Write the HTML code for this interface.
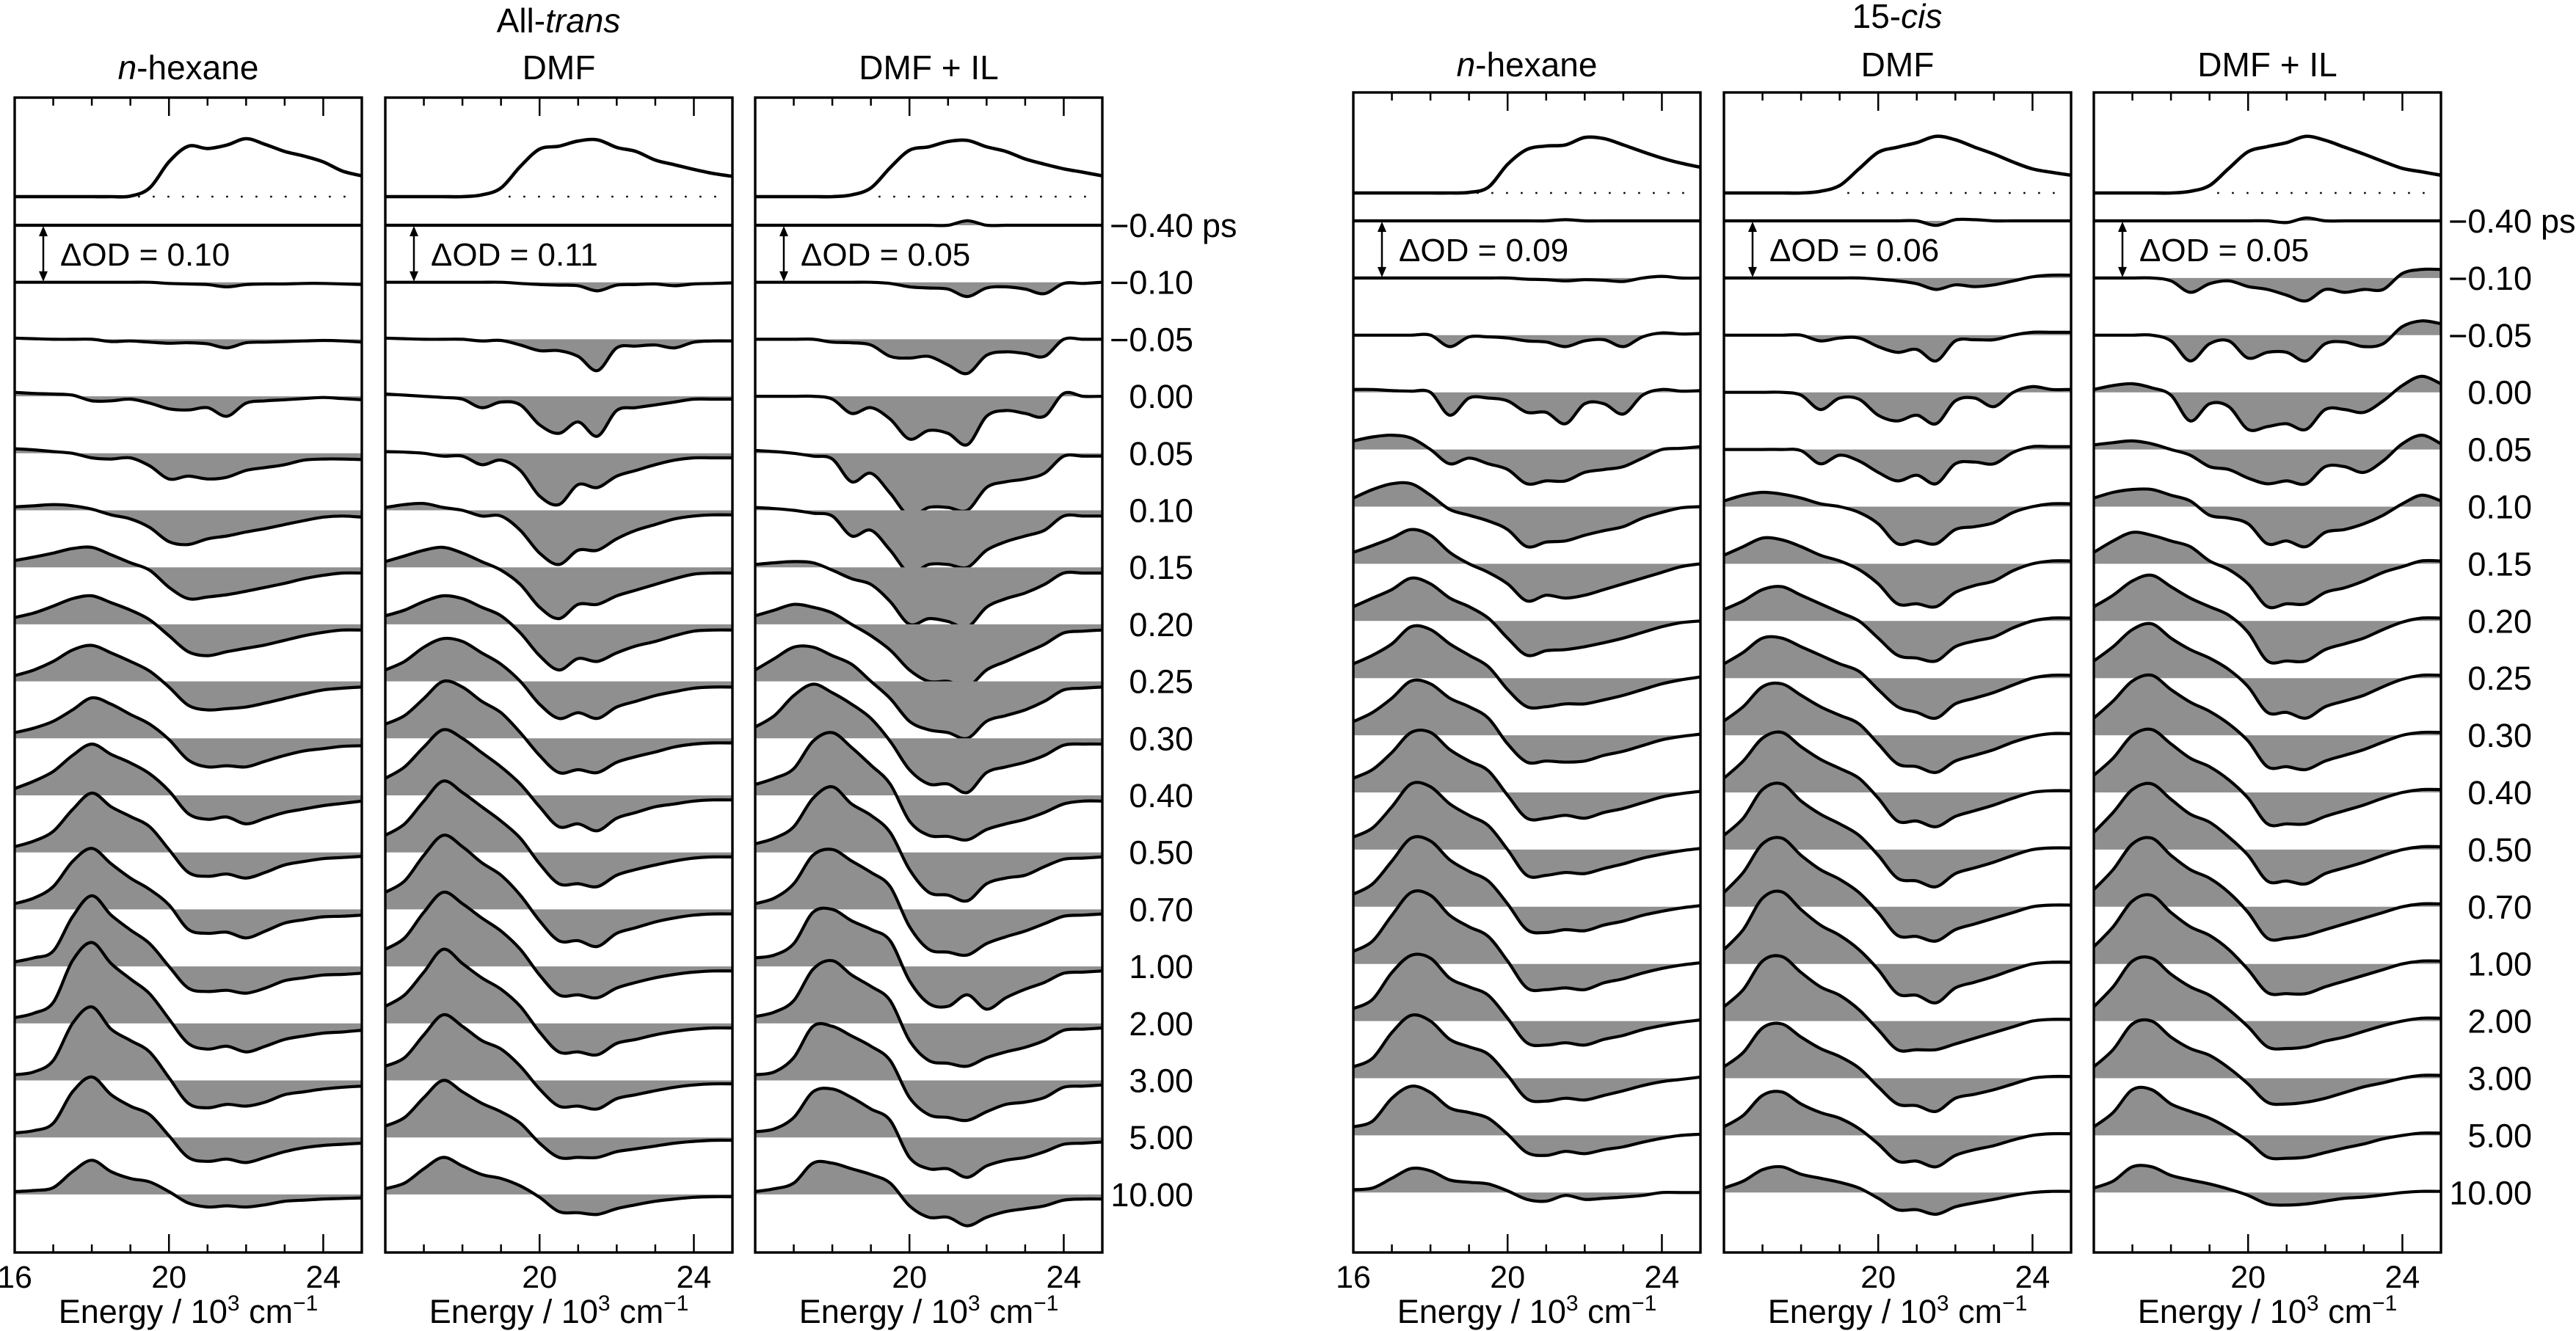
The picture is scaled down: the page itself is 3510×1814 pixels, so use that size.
<!DOCTYPE html>
<html><head><meta charset="utf-8">
<style>
html,body{margin:0;padding:0;background:#fff;}
svg{display:block;font-family:"Liberation Sans",Arial,sans-serif;}
</style></head>
<body>
<svg id="fig" width="3510" height="1814" viewBox="0 0 3510 1814" xmlns="http://www.w3.org/2000/svg">
<text x="761" y="44" font-size="46" text-anchor="middle">All-<tspan font-style="italic">trans</tspan></text>
<text x="2585" y="38" font-size="46" text-anchor="middle">15-<tspan font-style="italic">cis</tspan></text>
</svg>
<script>
const energies=[16,16.5,17,17.5,18,18.5,19,19.5,20,20.5,21,21.5,22,22.5,23,23.5,24,24.5,25];
const delays=["\u22120.40","\u22120.10","\u22120.05","0.00","0.05","0.10","0.15","0.20","0.25","0.30","0.40","0.50","0.70","1.00","2.00","3.00","5.00","10.00"];
const solvents=["n-hexane","DMF","DMF + IL","n-hexane","DMF","DMF + IL"];
const odScale=["0.10","0.11","0.05","0.09","0.06","0.05"];
const xTicks=[16,20,24];

const absAtHex=[0,0,0,0,0,0,.01,.15,.6,.87,.83,.89,1,.9,.78,.7,.6,.44,.36];
const absAtDmf=[0,0,0,0,0,.03,.15,.52,.82,.87,.96,.98,.85,.78,.63,.55,.47,.4,.35];
const absAtIl=[0,0,0,0,0,.03,.15,.5,.8,.86,.95,.97,.86,.78,.65,.56,.48,.42,.36];
const absCisHex=[0,0,0,0,0,0,.01,.1,.5,.76,.82,.84,.97,.95,.84,.72,.61,.52,.45];
const absCisDmf=[0,0,0,0,0,.03,.13,.42,.71,.8,.88,.99,.93,.8,.68,.54,.42,.36,.31];
const absCisIl=[0,0,0,0,0,.03,.13,.43,.72,.81,.88,.99,.92,.8,.68,.55,.43,.37,.31];

const atHex=[
[0,0,0,0,0,0,0,0,0,0,0,0,0,0,0,0,0,0,0],
[0,0,0,0,0,0,0,0,-.02,-.03,-.04,-.08,-.04,-.03,-.03,-.02,-.02,-.03,-.04],
[.02,.01,0,0,0,-.04,-.03,-.05,-.07,-.06,-.08,-.15,-.06,-.05,-.04,-.03,-.02,-.03,-.05],
[.07,.05,.04,.02,-.08,-.08,-.05,-.12,-.22,-.24,-.2,-.35,-.12,-.08,-.06,-.04,-.02,-.04,-.06],
[.08,.06,.03,0,-.08,-.1,-.08,-.22,-.45,-.4,-.45,-.42,-.3,-.25,-.2,-.12,-.1,-.1,-.11],
[.06,.08,.1,.08,.02,-.08,-.15,-.3,-.55,-.6,-.5,-.45,-.38,-.32,-.25,-.18,-.12,-.1,-.12],
[.12,.18,.25,.33,.35,.22,.08,-.05,-.35,-.55,-.52,-.48,-.42,-.35,-.28,-.2,-.14,-.1,-.1],
[.12,.2,.32,.45,.5,.38,.25,.08,-.2,-.48,-.55,-.48,-.42,-.36,-.28,-.2,-.14,-.1,-.1],
[.1,.2,.35,.55,.63,.5,.35,.18,-.1,-.42,-.5,-.48,-.45,-.38,-.3,-.22,-.15,-.12,-.1],
[.1,.18,.3,.5,.71,.6,.42,.25,-.02,-.38,-.5,-.48,-.5,-.4,-.3,-.22,-.18,-.14,-.13],
[.12,.25,.42,.7,.9,.72,.57,.38,.08,-.32,-.42,-.38,-.5,-.4,-.3,-.24,-.18,-.14,-.1],
[.1,.2,.37,.75,1.04,.8,.63,.45,.05,-.35,-.42,-.38,-.45,-.35,-.22,-.16,-.11,-.09,-.07],
[.1,.2,.4,.84,1.07,.8,.55,.35,.08,-.35,-.42,-.4,-.5,-.38,-.24,-.18,-.13,-.12,-.1],
[.08,.15,.27,.87,1.24,.9,.64,.4,0,-.38,-.44,-.42,-.47,-.38,-.25,-.2,-.15,-.14,-.12],
[.1,.18,.37,1.1,1.42,1.05,.78,.52,.08,-.35,-.45,-.4,-.5,-.4,-.28,-.22,-.17,-.15,-.12],
[.1,.15,.35,1.0,1.29,.9,.7,.5,.05,-.4,-.48,-.42,-.45,-.38,-.25,-.2,-.15,-.12,-.1],
[.08,.12,.25,.8,1.06,.75,.55,.4,.03,-.35,-.42,-.38,-.44,-.35,-.25,-.18,-.14,-.12,-.1],
[.05,.07,.12,.4,.6,.4,.28,.22,.05,-.15,-.22,-.2,-.22,-.18,-.12,-.1,-.08,-.07,-.06]];

const atDmf=[
[0,0,0,0,0,0,0,0,0,0,0,0,0,0,0,0,0,0,0],
[0,0,0,0,0,0,0,-.02,-.04,-.05,-.06,-.15,-.05,-.04,-.03,-.06,-.03,-.02,-.01],
[.02,.01,0,0,0,-.03,-.02,-.1,-.2,-.2,-.3,-.55,-.15,-.12,-.1,-.15,-.05,-.03,-.03],
[.04,.02,0,-.02,-.05,-.2,-.1,-.15,-.5,-.65,-.45,-.7,-.25,-.2,-.15,-.1,-.05,-.05,-.05],
[.03,.02,0,-.05,-.05,-.2,-.12,-.3,-.75,-.9,-.55,-.6,-.4,-.3,-.2,-.12,-.08,-.08,-.08],
[.05,.1,.12,.05,0,-.1,-.1,-.35,-.75,-.95,-.7,-.7,-.5,-.35,-.25,-.15,-.1,-.08,-.08],
[.1,.2,.3,.35,.25,.1,-.05,-.3,-.7,-.9,-.65,-.65,-.5,-.4,-.3,-.2,-.12,-.1,-.1],
[.15,.25,.4,.5,.45,.3,.15,-.15,-.55,-.8,-.6,-.65,-.5,-.38,-.3,-.2,-.12,-.1,-.1],
[.2,.35,.6,.75,.7,.5,.3,0,-.4,-.65,-.55,-.65,-.45,-.35,-.25,-.18,-.12,-.1,-.1],
[.25,.4,.7,1.0,.9,.65,.45,.1,-.3,-.6,-.55,-.6,-.42,-.32,-.24,-.15,-.1,-.08,-.08],
[.3,.5,.85,1.15,1.0,.75,.5,.2,-.2,-.55,-.5,-.62,-.4,-.3,-.2,-.15,-.1,-.08,-.08],
[.3,.5,.9,1.25,1.05,.8,.55,.25,-.2,-.55,-.55,-.6,-.4,-.3,-.22,-.15,-.1,-.08,-.08],
[.3,.5,.95,1.3,1.1,.82,.6,.25,-.2,-.55,-.55,-.65,-.42,-.32,-.22,-.15,-.1,-.08,-.08],
[.3,.5,.95,1.3,1.1,.85,.62,.3,-.15,-.5,-.5,-.55,-.38,-.28,-.2,-.14,-.1,-.08,-.08],
[.3,.5,.9,1.3,1.05,.8,.6,.3,-.15,-.5,-.5,-.55,-.35,-.28,-.2,-.14,-.1,-.08,-.08],
[.25,.4,.8,1.15,.95,.7,.55,.25,-.15,-.45,-.45,-.5,-.32,-.25,-.18,-.12,-.08,-.06,-.06],
[.2,.35,.7,1.0,.8,.6,.45,.25,-.1,-.35,-.35,-.35,-.25,-.2,-.15,-.1,-.07,-.05,-.05],
[.1,.2,.45,.65,.5,.35,.28,.15,-.05,-.3,-.32,-.35,-.25,-.18,-.12,-.08,-.05,-.04,-.04]];

const atIl=[
[0,0,0,0,0,0,0,0,0,0,0,.08,0,0,0,0,0,0,0],
[0,0,0,0,0,0,0,-.02,-.08,-.1,-.12,-.25,-.1,-.08,-.12,-.2,-.02,-.02,0],
[0,0,0,0,-.05,-.06,-.1,-.3,-.33,-.3,-.45,-.6,-.28,-.22,-.25,-.3,0,0,0],
[0,0,0,0,-.05,-.3,-.2,-.4,-.75,-.6,-.65,-.85,-.35,-.25,-.3,-.35,.05,0,0],
[.05,.03,0,-.05,-.1,-.5,-.35,-.7,-1.1,-.95,-.95,-1.0,-.6,-.5,-.45,-.35,-.05,-.05,-.05],
[.05,.03,0,-.05,-.1,-.45,-.35,-.7,-1.1,-.95,-.95,-1.0,-.7,-.55,-.45,-.35,-.1,-.1,-.1],
[.05,.08,.1,.08,-.05,-.2,-.3,-.6,-1.0,-.9,-.95,-1.05,-.7,-.55,-.45,-.3,-.1,-.1,-.1],
[.15,.25,.35,.3,.2,0,-.2,-.45,-.8,-1.0,-1.0,-1.1,-.8,-.65,-.5,-.35,-.15,-.12,-.1],
[.2,.4,.6,.6,.45,.3,0,-.3,-.7,-.85,-.9,-1.0,-.7,-.6,-.5,-.35,-.15,-.12,-.1],
[.2,.4,.75,.95,.8,.6,.35,-.05,-.55,-.8,-.8,-.95,-.6,-.5,-.42,-.3,-.12,-.1,-.1],
[.19,.3,.47,.95,1.1,.84,.53,.2,-.45,-.7,-.72,-.78,-.6,-.5,-.42,-.3,-.15,-.1,-.1],
[.15,.25,.45,.95,1.15,.85,.65,.35,-.3,-.7,-.75,-.85,-.55,-.45,-.4,-.25,-.12,-.1,-.08],
[.1,.2,.45,.95,1.05,.85,.65,.4,-.3,-.7,-.75,-.8,-.6,-.48,-.38,-.25,-.12,-.1,-.08],
[.15,.2,.4,.95,1.0,.8,.65,.45,-.25,-.65,-.7,-.5,-.75,-.55,-.4,-.28,-.12,-.1,-.08],
[.12,.2,.4,.95,1.1,.85,.65,.4,-.3,-.65,-.7,-.75,-.6,-.5,-.42,-.3,-.12,-.1,-.08],
[.1,.15,.4,.95,.95,.78,.6,.35,-.3,-.6,-.65,-.7,-.55,-.42,-.38,-.3,-.12,-.1,-.08],
[.1,.15,.35,.8,.85,.7,.5,.3,-.35,-.55,-.55,-.7,-.5,-.4,-.35,-.25,-.12,-.1,-.08],
[.05,.1,.2,.55,.55,.45,.35,.2,-.2,-.4,-.4,-.55,-.4,-.3,-.25,-.2,-.1,-.08,-.08]];

const cisHex=[
[0,0,0,0,0,0,0,0,0,0,0,.02,0,0,0,0,0,0,0],
[0,0,0,0,0,0,0,0,0,-.02,-.03,-.05,-.03,-.04,-.06,0,.03,0,0],
[0,0,0,0,0,-.2,-.03,-.03,-.05,-.1,-.12,-.2,-.1,-.08,-.2,-.03,.04,.02,.03],
[.05,.05,.03,.02,0,-.4,-.1,-.1,-.15,-.35,-.35,-.55,-.2,-.2,-.38,-.05,.05,.02,.03],
[.15,.22,.25,.2,0,-.25,-.15,-.25,-.35,-.6,-.55,-.55,-.4,-.35,-.3,-.15,0,.02,.05],
[.15,.3,.4,.4,.2,-.05,-.15,-.25,-.4,-.7,-.62,-.6,-.5,-.42,-.35,-.2,-.1,-.02,0],
[.2,.32,.45,.6,.5,.2,0,-.15,-.35,-.65,-.55,-.6,-.55,-.45,-.35,-.25,-.15,-.05,0],
[.25,.4,.55,.75,.65,.4,.25,.05,-.3,-.6,-.52,-.5,-.45,-.38,-.3,-.2,-.1,-.03,0],
[.25,.4,.6,.9,.85,.6,.4,.2,-.2,-.5,-.5,-.45,-.45,-.38,-.3,-.2,-.1,-.03,.02],
[.24,.4,.65,.95,.9,.65,.5,.3,-.15,-.47,-.45,-.47,-.45,-.35,-.28,-.18,-.08,-.02,.02],
[.25,.4,.7,1.05,1.05,.75,.55,.38,-.05,-.45,-.45,-.4,-.45,-.35,-.28,-.18,-.08,-.02,.02],
[.22,.38,.75,1.15,1.1,.8,.6,.42,0,-.45,-.45,-.4,-.42,-.33,-.25,-.15,-.08,-.02,.02],
[.22,.4,.8,1.2,1.15,.82,.62,.45,.05,-.4,-.45,-.4,-.42,-.32,-.25,-.15,-.08,-.02,.02],
[.22,.4,.85,1.25,1.2,.85,.65,.48,.05,-.42,-.45,-.42,-.45,-.33,-.26,-.16,-.08,-.02,.02],
[.22,.38,.85,1.15,1.1,.75,.6,.45,.05,-.38,-.42,-.38,-.42,-.32,-.25,-.15,-.08,-.02,.02],
[.2,.35,.8,1.1,1.0,.68,.55,.42,.05,-.36,-.4,-.35,-.38,-.3,-.22,-.13,-.06,-.02,.02],
[.15,.25,.65,.86,.75,.48,.4,.3,.02,-.3,-.35,-.28,-.32,-.25,-.2,-.12,-.05,0,.02],
[.05,.08,.25,.42,.38,.22,.18,.15,.03,-.12,-.15,-.05,-.12,-.1,-.08,-.05,0,0,0]];

const cisDmf=[
[0,0,0,0,0,0,0,0,0,0,0,-.08,.02,.02,0,0,0,0,0],
[0,0,0,0,0,0,0,0,-.02,-.05,-.1,-.2,-.12,-.15,-.12,-.05,.02,.05,.05],
[0,0,0,0,0,-.1,-.05,-.05,-.2,-.3,-.25,-.45,-.1,-.08,-.08,0,.05,.05,.05],
[0,0,0,0,-.05,-.3,-.1,-.12,-.4,-.5,-.4,-.55,-.15,-.1,-.25,0,.1,.05,.05],
[0,0,0,0,-.02,-.25,-.1,-.2,-.4,-.55,-.45,-.6,-.25,-.22,-.25,-.05,.05,.05,.05],
[.1,.2,.25,.22,.15,.05,0,-.1,-.3,-.65,-.6,-.65,-.4,-.35,-.28,-.1,0,.05,.05],
[.15,.3,.45,.42,.3,.15,.05,-.1,-.35,-.7,-.7,-.75,-.5,-.38,-.3,-.12,0,.05,.05],
[.2,.35,.55,.6,.45,.3,.15,0,-.3,-.6,-.65,-.7,-.45,-.35,-.28,-.12,0,.05,.05],
[.25,.45,.7,.7,.55,.4,.25,.12,-.2,-.5,-.6,-.7,-.45,-.35,-.25,-.12,0,.05,.05],
[.25,.5,.85,.9,.7,.5,.35,.2,-.15,-.5,-.55,-.65,-.45,-.35,-.25,-.12,-.02,.03,.03],
[.25,.55,.95,1.05,.8,.58,.42,.25,-.1,-.5,-.5,-.6,-.42,-.32,-.22,-.1,0,.03,.03],
[.25,.55,1.05,1.15,.85,.62,.45,.25,-.1,-.5,-.55,-.65,-.42,-.32,-.22,-.1,0,.03,.03],
[.25,.6,1.1,1.2,.9,.65,.48,.25,-.1,-.5,-.52,-.6,-.4,-.3,-.2,-.1,0,.03,.03],
[.25,.6,1.15,1.26,.95,.68,.5,.25,-.1,-.52,-.55,-.68,-.42,-.32,-.22,-.1,0,.03,.03],
[.25,.55,1.05,1.13,.85,.6,.45,.2,-.15,-.5,-.5,-.5,-.4,-.3,-.2,-.1,0,.03,.03],
[.2,.45,.88,.95,.72,.52,.38,.18,-.15,-.45,-.48,-.58,-.35,-.28,-.2,-.1,0,.03,.03],
[.15,.35,.7,.76,.55,.4,.3,.12,-.15,-.45,-.45,-.55,-.35,-.25,-.18,-.08,0,.03,.03],
[.08,.2,.4,.45,.32,.25,.18,.08,-.1,-.3,-.3,-.38,-.25,-.18,-.12,-.05,0,.02,.02]];

const cisIl=[
[0,0,0,0,0,0,0,0,0,0,-.03,.05,0,0,0,0,0,0,0],
[0,0,0,0,-.05,-.25,-.1,-.05,-.15,-.2,-.3,-.4,-.2,-.25,-.2,-.2,.08,.15,.15],
[0,0,0,0,-.1,-.45,-.15,-.1,-.4,-.3,-.3,-.45,-.15,-.12,-.2,-.15,.15,.25,.2],
[.05,.12,.15,.08,-.05,-.5,-.2,-.25,-.65,-.6,-.55,-.65,-.3,-.3,-.35,-.15,.12,.28,.15],
[.08,.12,.15,.1,0,-.1,-.3,-.35,-.5,-.6,-.55,-.6,-.3,-.3,-.4,-.2,.1,.25,.1],
[.15,.25,.3,.3,.2,.1,-.15,-.2,-.3,-.65,-.6,-.7,-.45,-.4,-.3,-.15,.05,.2,.1],
[.2,.4,.55,.5,.4,.3,.05,-.1,-.35,-.75,-.7,-.7,-.5,-.42,-.3,-.15,-.05,.05,.05],
[.25,.45,.7,.8,.6,.4,.25,.1,-.2,-.7,-.7,-.7,-.5,-.4,-.3,-.15,-.02,.05,.05],
[.3,.55,.85,.95,.7,.5,.35,.15,-.15,-.6,-.6,-.7,-.5,-.4,-.3,-.15,-.02,.05,.05],
[.3,.6,.95,1.05,.8,.58,.42,.2,-.1,-.55,-.55,-.6,-.45,-.35,-.25,-.12,0,.05,.05],
[.3,.6,1.0,1.1,.85,.6,.45,.22,-.1,-.55,-.55,-.55,-.42,-.32,-.22,-.1,0,.05,.05],
[.3,.65,1.05,1.15,.88,.62,.48,.22,-.1,-.55,-.55,-.6,-.42,-.32,-.22,-.1,0,.05,.05],
[.3,.65,1.1,1.2,.9,.65,.5,.25,-.1,-.55,-.55,-.5,-.4,-.3,-.2,-.1,0,.05,.05],
[.3,.65,1.1,1.2,.9,.65,.5,.25,-.1,-.5,-.52,-.52,-.4,-.3,-.2,-.1,0,.05,.05],
[.25,.6,1.05,1.1,.82,.6,.45,.2,-.1,-.45,-.48,-.45,-.35,-.28,-.18,-.08,0,.05,.05],
[.2,.5,.95,1.0,.72,.52,.4,.18,-.1,-.42,-.45,-.42,-.35,-.25,-.15,-.08,0,.05,.05],
[.15,.4,.8,.8,.55,.42,.3,.12,-.1,-.38,-.4,-.38,-.3,-.22,-.15,-.06,0,.04,.04],
[.08,.2,.45,.45,.3,.22,.15,.06,-.05,-.2,-.22,-.2,-.15,-.1,-.08,-.04,0,.02,.02]];

const panelData=[atHex,atDmf,atIl,cisHex,cisDmf,cisIl];
const panelAbs=[absAtHex,absAtDmf,absAtIl,absCisHex,absCisDmf,absCisIl];

(function(){
const NS="http://www.w3.org/2000/svg";
const svg=document.getElementById('fig');
function el(tag,attrs,parent){const e=document.createElementNS(NS,tag);for(const k in attrs)e.setAttribute(k,attrs[k]);(parent||svg).appendChild(e);return e;}
const W=473;
const groups=[{x0s:[20,525,1029],top:133,base0:307,step:77.7,absBase:268,absH:79,subY:108,labelX:1626},
              {x0s:[1844,2349,2853],top:126,base0:301,step:77.9,absBase:263,absH:78,subY:104,labelX:3450}];
const bottom=1707;
function smooth(pts){
  let d="M"+pts[0][0].toFixed(1)+","+pts[0][1].toFixed(1);
  for(let i=0;i<pts.length-1;i++){
    const p0=pts[i-1]||pts[i],p1=pts[i],p2=pts[i+1],p3=pts[i+2]||p2;
    const c1=[p1[0]+(p2[0]-p0[0])/6,p1[1]+(p2[1]-p0[1])/6];
    const c2=[p2[0]-(p3[0]-p1[0])/6,p2[1]-(p3[1]-p1[1])/6];
    d+=" C"+c1[0].toFixed(1)+","+c1[1].toFixed(1)+" "+c2[0].toFixed(1)+","+c2[1].toFixed(1)+" "+p2[0].toFixed(1)+","+p2[1].toFixed(1);
  }
  return d;
}
for(let p=0;p<6;p++){
  const g=groups[p<3?0:1];
  const x0=g.x0s[p%3];
  const xs=e=>x0+(e-16)/9*W;
  const yBase=i=>g.base0+g.step*i;
  const gp=el('g',{});
  
  
  const st=el('text',{x:x0+W/2,y:g.subY,'font-size':46,'text-anchor':'middle'},gp);
  
  
  if(solvents[p]==="n-hexane"){const ts=el('tspan',{'font-style':'italic'},st);ts.textContent='n';st.appendChild(document.createTextNode('-hexane'));}
  else st.textContent=solvents[p];
  const data=panelData[p];
  for(let i=0;i<data.length;i++){
    const b=yBase(i);
    const pts=energies.map((e,k)=>[xs(e),b-data[i][k]*g.step]);
    const c=smooth(pts);
    const f=el('path',{d:c+" L"+xs(25)+","+b+" L"+xs(16)+","+b+" Z",fill:'#8f8f8f',stroke:'none'},gp);
    
    
    const l=el('path',{d:c,fill:'none',stroke:'#000','stroke-width':4.2,'stroke-linejoin':'round'},gp);
    
    
  }
  const ab=panelAbs[p];
  const dl=el('line',{x1:xs(19.2),x2:xs(24.8),y1:g.absBase,y2:g.absBase,stroke:'#000','stroke-width':2.5,'stroke-dasharray':'2.5 17.5'},gp);
  
  
  const apts=energies.map((e,k)=>[xs(e),g.absBase-ab[k]*g.absH]);
  const ap=el('path',{d:smooth(apts),fill:'none',stroke:'#000','stroke-width':4.6,'stroke-linejoin':'round'},gp);
  
  
  const fr=el('rect',{x:x0,y:g.top,width:W,height:bottom-g.top,fill:'none',stroke:'#000','stroke-width':3.4},gp);
  
  
  for(let e=17;e<=24;e++){
    const major=(e===20||e===24);
    const L=major?25:11;
    const t1=el('line',{x1:xs(e),x2:xs(e),y1:g.top,y2:g.top+L,stroke:'#000','stroke-width':2.5},gp);
    
    
    const t2=el('line',{x1:xs(e),x2:xs(e),y1:bottom,y2:bottom-L,stroke:'#000','stroke-width':2.5},gp);
    
    
  }
  xTicks.forEach(v=>{
    if(v===16&&p%3!==0)return;
    const t=el('text',{x:xs(v),y:1755,'font-size':43,'text-anchor':'middle'},gp);
    
    
    t.textContent=String(v);
  });
  const xl=el('text',{x:x0+W/2,y:1803,'font-size':45,'text-anchor':'middle'},gp);
  
  
  xl.appendChild(document.createTextNode('Energy / 10'));
  const s1=el('tspan',{dy:-17,'font-size':30},xl);s1.textContent='3';
  const s2=el('tspan',{dy:17},xl);s2.textContent=' cm';
  const s3=el('tspan',{dy:-17,'font-size':30},xl);s3.textContent='\u22121';
  const ya=yBase(0),yb=yBase(1),ax=x0+39;
  const ar=el('g',{},gp);
  
  
  el('line',{x1:ax,x2:ax,y1:ya+12,y2:yb-12,stroke:'#000','stroke-width':2.5},ar);
  el('path',{d:`M${ax-6},${ya+15} L${ax},${ya+1} L${ax+6},${ya+15} Z`,fill:'#000'},ar);
  el('path',{d:`M${ax-6},${yb-15} L${ax},${yb-1} L${ax+6},${yb-15} Z`,fill:'#000'},ar);
  const ot=el('text',{x:x0+62,y:(ya+yb)/2+16,'font-size':44},gp);
  
  
  ot.textContent='\u0394OD = '+odScale[p];
  if(p%3===2){
    for(let i=0;i<data.length;i++){
      const t=el('text',{x:g.labelX,y:yBase(i)+16,'font-size':45,'text-anchor':'end'},svg);
      
      
      t.textContent=delays[i];
      if(i===0){
        const u=el('text',{x:g.labelX+12,y:yBase(i)+16,'font-size':45},svg);
        
        
        u.textContent='ps';
      }
    }
  }
}
})();
</script>
</body></html>
